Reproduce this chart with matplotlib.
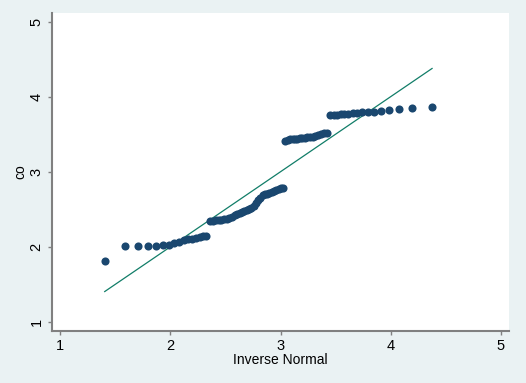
import matplotlib
matplotlib.use("Agg")
import matplotlib.pyplot as plt

# inverse normal quantiles (x) and sorted co values (y)
inv_normal = [1.405, 1.591, 1.709, 1.799, 1.872, 1.934, 1.989, 2.038, 2.083, 2.125,
              2.164, 2.200, 2.234, 2.267, 2.298, 2.327, 2.357, 2.384, 2.411, 2.438,
              2.464, 2.488, 2.513, 2.536, 2.560, 2.583, 2.605, 2.628, 2.649, 2.671,
              2.693, 2.714, 2.735, 2.756, 2.777, 2.797, 2.818, 2.838, 2.860, 2.880,
              2.900, 2.920, 2.942, 2.962, 2.983, 3.003, 3.024, 3.045, 3.066, 3.087,
              3.109, 3.131, 3.152, 3.175, 3.197, 3.220, 3.244, 3.267, 3.292, 3.316,
              3.342, 3.369, 3.396, 3.423, 3.453, 3.482, 3.513, 3.546, 3.580, 3.616,
              3.655, 3.697, 3.742, 3.791, 3.846, 3.908, 3.981, 4.071, 4.189, 4.375]
co = [1.815, 2.006, 2.010, 2.015, 2.015, 2.020, 2.03, 2.05, 2.07, 2.09,
      2.10, 2.11, 2.12, 2.13, 2.14, 2.15, 2.35, 2.35, 2.355, 2.36,
      2.36, 2.365, 2.37, 2.38, 2.40, 2.42, 2.44, 2.45, 2.47, 2.48,
      2.49, 2.50, 2.52, 2.55, 2.58, 2.62, 2.65, 2.69, 2.70, 2.71,
      2.72, 2.73, 2.75, 2.76, 2.77, 2.78, 2.79, 3.41, 3.42, 3.43,
      3.43, 3.44, 3.44, 3.45, 3.45, 3.45, 3.46, 3.46, 3.46, 3.47,
      3.49, 3.50, 3.51, 3.51, 3.75, 3.755, 3.76, 3.765, 3.77, 3.775,
      3.78, 3.785, 3.79, 3.795, 3.80, 3.81, 3.82, 3.83, 3.85, 3.86]
ticks = [1, 2, 3, 4, 5]

plt.rcParams['font.family'] = ['Liberation Sans', 'DejaVu Sans']

bg = '#eaf2f3'
axis_col = '#808080'

fig = plt.figure(figsize=(5.26, 3.83), dpi=100, facecolor=bg)
ax = fig.add_axes([0.0989, 0.1358, 0.8688, 0.8302])
ax.set_facecolor('white')

ax.scatter(inv_normal, co, s=34, color='#1a476f', zorder=3, linewidths=0)
ax.plot([inv_normal[0], inv_normal[-1]], [inv_normal[0], inv_normal[-1]],
        color='#117d68', lw=0.9, zorder=2)

ax.set_xlim(0.927, 5.073)
ax.set_ylim(0.88, 5.113)
ax.set_xticks(ticks)
ax.set_yticks(ticks)
ax.set_xticklabels([str(t) for t in ticks])
ax.set_yticklabels([str(t) for t in ticks], rotation=90, va='center')

for side in ['top', 'right']:
    ax.spines[side].set_visible(False)
for side in ['left', 'bottom']:
    ax.spines[side].set_color(axis_col)
    ax.spines[side].set_linewidth(1.5)
ax.tick_params(colors=axis_col, length=3, width=1, labelsize=10.5, pad=3,
               labelcolor='black')

ax.set_xlabel('Inverse Normal', fontsize=10, labelpad=0)
ax.set_ylabel('co', fontsize=10, labelpad=2)

fig.savefig('out.png', dpi=100, facecolor=bg)
